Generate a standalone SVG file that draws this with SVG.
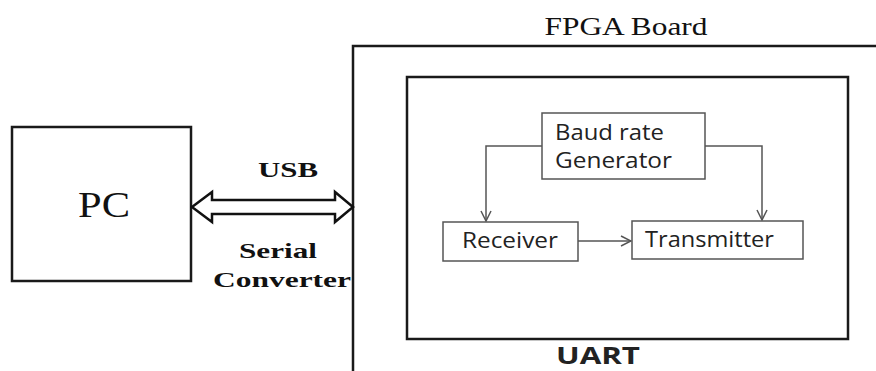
<svg xmlns="http://www.w3.org/2000/svg" width="876" height="371" viewBox="0 0 876 371">
<style>
.thick{fill:none;stroke:#1a1a1a;stroke-width:2.5}
.thin{fill:#fff;stroke:#555;stroke-width:1.5}
.conn{fill:none;stroke:#555;stroke-width:1.5}
.serif{font-family:"Liberation Serif","Times New Roman",serif;fill:#111}
.sans{font-family:"Open Sans","DejaVu Sans",sans-serif;fill:#222}
</style>
<defs>
<marker id="ah" viewBox="0 0 12 12" refX="11" refY="6" markerWidth="12" markerHeight="12" markerUnits="userSpaceOnUse" orient="auto">
<path d="M1,1 L11,6 L1,11" fill="none" stroke="#555" stroke-width="1.5"/>
</marker>
</defs>
<rect width="876" height="371" fill="#fff"/>
<g id="fpga">
<rect class="thick" x="353" y="46" width="600" height="400"/>
<text class="serif" x="626" y="35" font-size="25" text-anchor="middle" textLength="163" lengthAdjust="spacingAndGlyphs">FPGA Board</text>
</g>
<g id="uart">
<rect class="thick" x="407" y="77" width="441" height="262"/>
<text class="sans" x="598" y="364" font-size="24" font-weight="bold" text-anchor="middle" fill="#111" textLength="84" lengthAdjust="spacingAndGlyphs">UART</text>
</g>
<g id="pc">
<rect class="thick" x="12" y="127" width="179" height="154"/>
<text class="serif" x="104" y="217" font-size="35" text-anchor="middle" textLength="52" lengthAdjust="spacingAndGlyphs">PC</text>
</g>
<g id="baud">
<rect class="thin" x="542" y="113" width="163" height="66"/>
<text class="sans" x="555" y="140" font-size="21" textLength="109" lengthAdjust="spacingAndGlyphs">Baud rate</text>
<text class="sans" x="555" y="168" font-size="21" textLength="117" lengthAdjust="spacingAndGlyphs">Generator</text>
</g>
<g id="receiver">
<rect class="thin" x="443" y="222" width="135" height="39"/>
<text class="sans" x="462" y="248" font-size="21" textLength="96" lengthAdjust="spacingAndGlyphs">Receiver</text>
</g>
<g id="transmitter">
<rect class="thin" x="632" y="221" width="171" height="38"/>
<text class="sans" x="645" y="247" font-size="21" textLength="129" lengthAdjust="spacingAndGlyphs">Transmitter</text>
</g>
<g id="connectors">
<path class="conn" d="M542,146 H486 V221" marker-end="url(#ah)"/>
<path class="conn" d="M705,146 H762 V220" marker-end="url(#ah)"/>
<path class="conn" d="M578,241 H631" marker-end="url(#ah)"/>
<path d="M192,207 L212,192 V200 H335 V192 L353,207 L335,222 V214 H212 V222 Z" fill="#fff" stroke="#111" stroke-width="2.5" stroke-linejoin="miter"/>
<text class="serif" x="288" y="177" font-size="22" font-weight="bold" text-anchor="middle" textLength="60" lengthAdjust="spacingAndGlyphs">USB</text>
<text class="serif" x="278" y="258" font-size="22" font-weight="bold" text-anchor="middle" textLength="78" lengthAdjust="spacingAndGlyphs">Serial</text>
<text class="serif" x="282" y="287" font-size="22" font-weight="bold" text-anchor="middle" textLength="138" lengthAdjust="spacingAndGlyphs">Converter</text>
</g>
</svg>
